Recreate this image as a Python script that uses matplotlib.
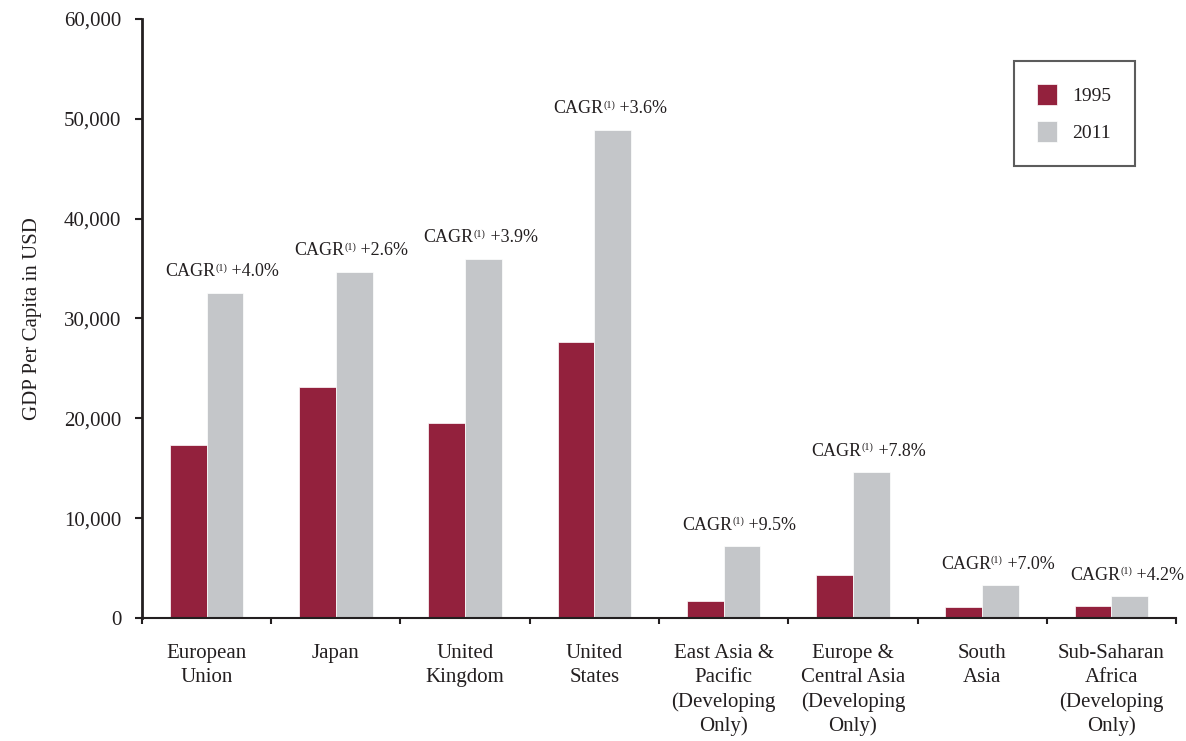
import matplotlib
matplotlib.use("Agg")
import matplotlib.pyplot as plt
import numpy as np
from matplotlib.offsetbox import TextArea, HPacker, AnnotationBbox

plt.rcParams['font.family'] = ['Liberation Serif', 'DejaVu Serif']

categories = ["European\nUnion", "Japan", "United\nKingdom", "United\nStates",
              "East Asia &\nPacific\n(Developing\nOnly)",
              "Europe &\nCentral Asia\n(Developing\nOnly)",
              "South\nAsia",
              "Sub-Saharan\nAfrica\n(Developing\nOnly)"]
gdp_1995 = [17300, 23100, 19500, 27600, 1700, 4300, 1100, 1200]
gdp_2011 = [32600, 34700, 36000, 48900, 7200, 14600, 3300, 2200]
cagr = ["+4.0%", "+2.6%", "+3.9%", "+3.6%", "+9.5%", "+7.8%", "+7.0%", "+4.2%"]
series_labels = ["1995", "2011"]
yticks = [0, 10000, 20000, 30000, 40000, 50000, 60000]

c1995 = "#93213D"
c2011 = "#C4C6C9"
tc = "#231F20"

fig = plt.figure(figsize=(11.86, 7.41), dpi=100)
ax = fig.add_axes([0.1197, 0.166, 0.8719, 0.8084])

x = np.arange(len(categories))
w = 0.284
ax.bar(x - w/2, gdp_1995, w, color=c1995, label=series_labels[0], edgecolor='white', linewidth=0.5)
ax.bar(x + w/2, gdp_2011, w, color=c2011, label=series_labels[1], edgecolor='white', linewidth=0.5)

for xi, v, c in zip(x, gdp_2011, cagr):
    t1 = TextArea("CAGR", textprops=dict(fontsize=13, color=tc))
    t2 = TextArea("(1)", textprops=dict(fontsize=7.5, color=tc))
    t3 = TextArea(" " + c, textprops=dict(fontsize=13, color=tc))
    pack = HPacker(children=[t1, t2, t3], align="top", pad=0, sep=0)
    ab = AnnotationBbox(pack, (xi + w/2, v), xybox=(-2, 9), xycoords='data',
                        boxcoords='offset points', box_alignment=(0.5, 0),
                        frameon=False, pad=0)
    ax.add_artist(ab)

ax.set_xlim(-0.5, len(categories) - 0.5)
ax.set_ylim(0, 60000)
ax.set_yticks(yticks)
ax.set_yticklabels([f"{t:,}" for t in yticks])
ax.set_xticks(x)
ax.set_xticklabels(categories, linespacing=1.33)
ax.set_xticks(np.arange(-0.5, len(categories)), minor=True)
ax.tick_params(axis='x', which='major', length=0, pad=19, labelsize=15, labelcolor=tc)
ax.tick_params(axis='x', which='minor', length=4, width=1.5, direction='out', color=tc)
ax.tick_params(axis='y', length=5, width=1.5, pad=10, labelsize=15, labelcolor=tc, color=tc)

for s in ['top', 'right']:
    ax.spines[s].set_visible(False)
ax.spines['left'].set_linewidth(2)
ax.spines['left'].set_color(tc)
ax.spines['bottom'].set_linewidth(1.5)
ax.spines['bottom'].set_color(tc)

ax.set_ylabel("GDP Per Capita in USD", fontsize=15, color=tc, labelpad=16)

leg = ax.legend(loc='upper right', bbox_to_anchor=(0.960, 0.930), fontsize=14,
                frameon=True, fancybox=False, handlelength=1.0, handleheight=1.3,
                labelspacing=0.8, borderpad=1.2, handletextpad=0.8, borderaxespad=0)
leg.get_frame().set_edgecolor('#333333')
leg.get_frame().set_linewidth(1.5)
for t in leg.get_texts():
    t.set_color(tc)

fig.savefig("out.png", dpi=100)
